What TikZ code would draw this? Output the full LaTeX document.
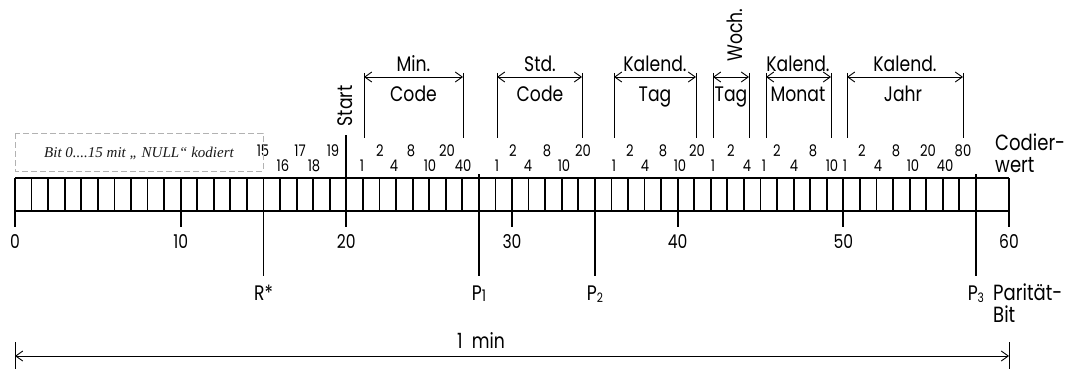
\documentclass[tikz,border=0pt]{standalone}
\usepackage{fontspec}
\setmainfont{Poppins}[FakeStretch=0.82]
\newfontfamily\notefont{Liberation Serif}
\usetikzlibrary{arrows.meta}
\begin{document}
\begin{tikzpicture}[x=1pt,y=-1pt,
  boxline/.style={line width=1.8pt},
  thinline/.style={line width=0.9pt},
  dimarrow/.style={line width=0.9pt,{Straight Barb[length=7pt,width=10pt]}-{Straight Barb[length=7pt,width=10pt]}},
  big/.style={font=\fontsize{21}{24}\selectfont, inner sep=0pt, anchor=base},
  side/.style={font=\fontsize{22}{24}\selectfont, inner sep=0pt, anchor=base west},
  num/.style={font=\fontsize{19}{22}\selectfont, inner sep=0pt, anchor=base},
  bitl/.style={font=\fontsize{16}{18}\selectfont, inner sep=0pt, anchor=base},
]
\useasboundingbox (0,0) rectangle (1069,369);
\def\bw{16.5667}
% bit cells
\foreach \i in {0,...,60} {
  \coordinate (t\i) at (15+\i*\bw,178);
  \coordinate (b\i) at (15+\i*\bw,211);
}
\draw[boxline] (t0) -- (t60);
\draw[boxline] (b0) -- (b60);
\foreach \i in {0,...,58} \draw[boxline] (t\i) -- (b\i);
\draw[boxline] (t60) -- (b60);
% decade ticks and labels
\foreach \i in {0,10,...,60} {
  \draw[boxline] (b\i) -- ++(0,16);
  \node[num] (n\i) at (15+\i*\bw,248) {\i};
}
% start line
\coordinate (st) at (15+20*\bw,135);
\draw[boxline] (st) -- (t20);
\node[big, anchor=center, rotate=90] (start) at (345,106) {Start};
% R* and parity lines
\coordinate (rr) at (15+15*\bw,276);
\draw[boxline] (b15) -- (rr);
\node[big] (rlab) at (15+15*\bw,300) {R*};
\coordinate (p1t) at (15+28*\bw,174);
\coordinate (p1b) at (15+28*\bw,276);
\draw[boxline] (p1t) -- (p1b);
\node[big] (p1lab) at (15+28*\bw,300) {P{\raisebox{-1pt}{\fontsize{16}{16}\selectfont 1}}};
\coordinate (p2b) at (15+35*\bw,276);
\draw[boxline] (b35) -- (p2b);
\node[big] (p2lab) at (15+35*\bw,300) {P{\raisebox{-2pt}{\fontsize{13}{13}\selectfont 2}}};
\coordinate (p3t) at (15+58*\bw,174);
\coordinate (p3b) at (15+58*\bw,276);
\draw[boxline] (p3t) -- (p3b);
\node[big] (p3lab) at (15+58*\bw,300) {P{\raisebox{-2pt}{\fontsize{13}{13}\selectfont 3}}};
\node[side] (par1) at (993,300) {Parität-};
\node[side] (par2) at (993,322) {Bit};
\node[side] (cod1) at (995,150) {Codier-};
\node[side] (cod2) at (995,172) {wert};
% brackets
\foreach \nm/\l/\r in {min/364/463, std/497/582, tag/614/696, woch/713/749, mon/766/831, jahr/847/963} {
  \coordinate (\nm L) at (\l,73);
  \coordinate (\nm R) at (\r,73);
  \coordinate (\nm Lb) at (\l,138);
  \coordinate (\nm Rb) at (\r,138);
  \coordinate (\nm La) at (\l,77);
  \coordinate (\nm Ra) at (\r,77);
  \draw[thinline] (\nm L) -- (\nm Lb);
  \draw[thinline] (\nm R) -- (\nm Rb);
  \draw[dimarrow] (\nm La) -- (\nm Ra);
}
\node[big] (minA) at (413.5,71) {Min.};
\node[big] (minB) at (413.5,102) {Code};
\node[big] (stdA) at (540,71) {Std.};
\node[big] (stdB) at (540,102) {Code};
\node[big] (tagA) at (655,71) {Kalend.};
\node[big] (tagB) at (655,102) {Tag};
\node[big, anchor=center, rotate=90] (wochA) at (735,35) {Woch.};
\node[big] (wochB) at (731,102) {Tag};
\node[big] (monA) at (798,71) {Kalend.};
\node[big] (monB) at (798,102) {Monat};
\node[big] (jahrA) at (905,71) {Kalend.};
\node[big] (jahrB) at (903,102) {Jahr};
% bit weight labels, upper row
\foreach \x/\t [count=\k] in {263/15, 300/17, 333/19, 380/2, 411/8, 447/20, 513/2, 547/8, 583/20, 630/2, 663/8, 697/20, 731/2, 777/2, 813/8, 862/2, 896/8, 928/20, 963/80}
  \node[bitl] (u\k) at (\x,157) {\t};
% lower row
\foreach \x/\t [count=\k] in {283/16, 314/18, 362/1, 394/4, 430/10, 463/40, 497/1, 528/4, 564/10, 614/1, 645/4, 680/10, 713/1, 747/4, 764/1, 794/4, 832/10, 845/1, 878/4, 913/10, 945/40}
  \node[bitl] (l\k) at (\x,171) {\t};
% dashed note box
\draw[gray!60, line width=1pt, dash pattern=on 6pt off 3pt] (15,133) rectangle (263,171);
\node[inner sep=0pt, font=\notefont\itshape\fontsize{15}{17}\selectfont, text=black!90] (note) at (139,153) {Bit 0....15 mit „ NULL“ kodiert};
% 1 min
\coordinate (m0) at (15,356);
\coordinate (m60) at (1009,356);
\draw[thinline] (15,342) -- (15,369);
\draw[thinline] (1009,342) -- (1009,369);
\draw[dimarrow] (m0) -- (m60);
\node[big] (onemin) at (481,348) {1\ \ min};
\end{tikzpicture}
\end{document}
